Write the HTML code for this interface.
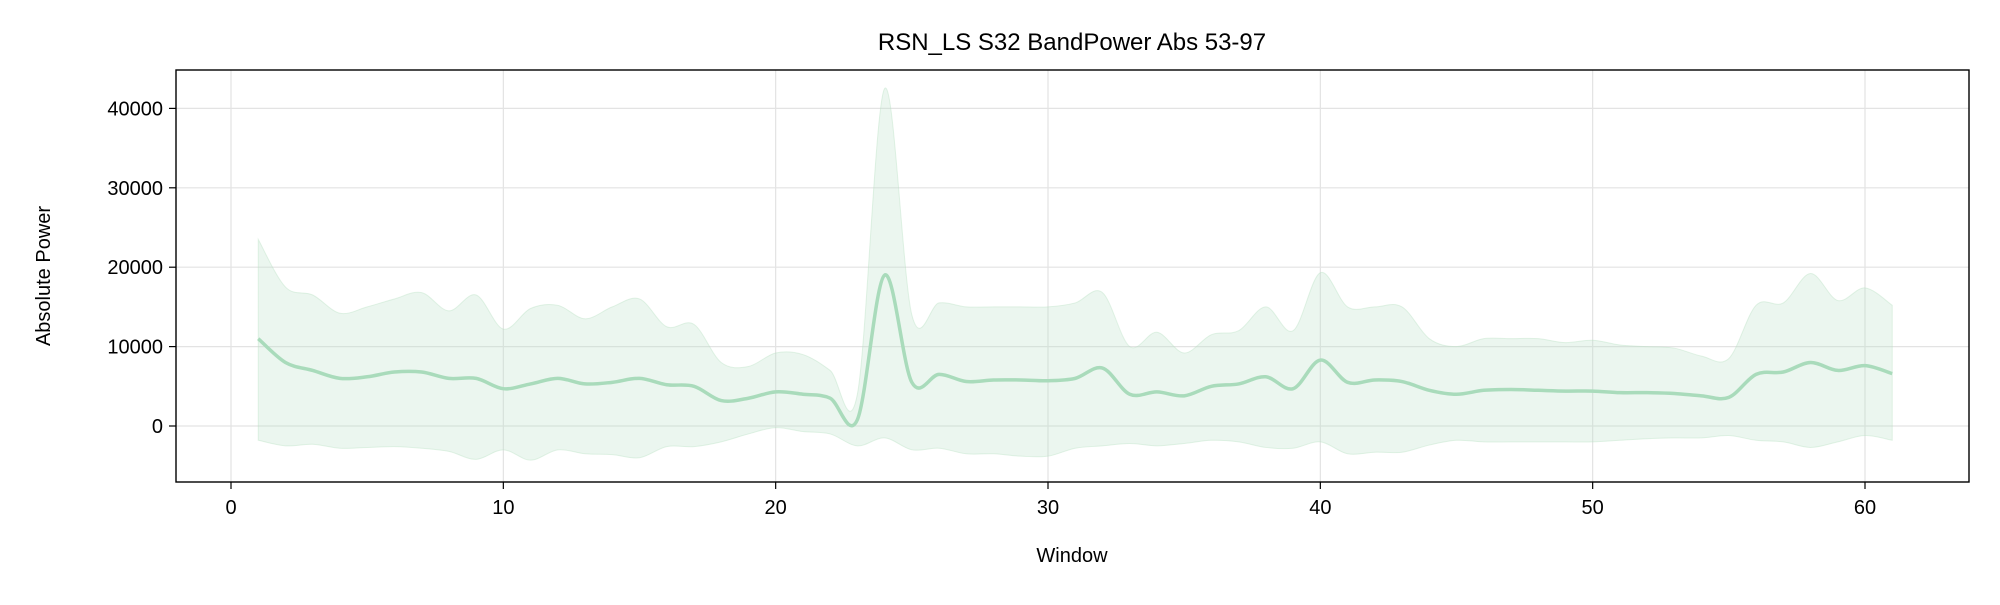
<!DOCTYPE html>
<html><head><meta charset="utf-8"><style>
html,body{margin:0;padding:0;background:#fff;}
svg text{font-family:"Liberation Sans","DejaVu Sans",sans-serif;fill:#000;}
</style></head><body>
<svg id="chart" width="2000" height="600" viewBox="0 0 2000 600" xmlns="http://www.w3.org/2000/svg">
<rect width="2000" height="600" fill="#fff"/>
<g id="grid"></g>
<g id="series"></g>
<rect x="176" y="70" width="1793" height="412" fill="none" stroke="#000" stroke-width="1.4"/>
<g id="ticks"></g>
<text x="1072" y="50" font-size="24" text-anchor="middle">RSN_LS S32 BandPower Abs 53-97</text>
<text x="1072" y="562" font-size="20" text-anchor="middle">Window</text>
<text transform="translate(50,276) rotate(-90)" font-size="20" text-anchor="middle">Absolute Power</text>
</svg>
<script>
const windows=[1,2,3,4,5,6,7,8,9,10,11,12,13,14,15,16,17,18,19,20,21,22,23,24,25,26,27,28,29,30,31,32,33,34,35,36,37,38,39,40,41,42,43,44,45,46,47,48,49,50,51,52,53,54,55,56,57,58,59,60,61];
const meanVals=[11000,8000,7000,6000,6200,6800,6800,6000,6000,4700,5300,6000,5300,5500,6000,5200,5000,3200,3500,4300,4000,3500,800,19000,5500,6500,5600,5800,5800,5700,6000,7300,4000,4300,3800,5000,5300,6200,4700,8300,5500,5800,5600,4500,4000,4500,4600,4500,4400,4400,4200,4200,4100,3800,3600,6500,6800,8000,7000,7600,6600];
const upperVals=[23500,17500,16500,14200,15000,16000,16800,14500,16500,12200,14800,15200,13500,15000,16000,12500,12800,8000,7500,9200,9000,7000,4000,42500,14000,15500,15000,15000,15000,15000,15500,16800,10000,11800,9200,11500,12000,15000,12000,19300,15000,15000,15000,11000,10000,11000,11000,11000,10500,10800,10200,10000,9800,8800,8500,15200,15500,19200,15800,17400,15200];
const lowerVals=[-1800,-2500,-2300,-2800,-2700,-2600,-2800,-3200,-4200,-3000,-4300,-3000,-3500,-3600,-4000,-2600,-2600,-2000,-1000,-200,-700,-1000,-2500,-1500,-3000,-2800,-3500,-3500,-3800,-3800,-2800,-2500,-2200,-2500,-2200,-1800,-2000,-2700,-2800,-2000,-3500,-3300,-3300,-2400,-1800,-2000,-2000,-2000,-2000,-2000,-1800,-1600,-1500,-1500,-1200,-1800,-2000,-2700,-2000,-1200,-1800];
const xTicks=[0,10,20,30,40,50,60];
const yTicks=[0,10000,20000,30000,40000];

const NS="http://www.w3.org/2000/svg";
const xs=v=>231+v*(1865-231)/60;
const ys=v=>426-v*(426-108.4)/40000;
function mk(tag,attrs,parent){const e=document.createElementNS(NS,tag);for(const k in attrs)e.setAttribute(k,attrs[k]);parent.appendChild(e);return e;}
function spline(pts){let d="";for(let i=0;i<pts.length-1;i++){const p0=pts[Math.max(i-1,0)],p1=pts[i],p2=pts[i+1],p3=pts[Math.min(i+2,pts.length-1)];
const c1=[p1[0]+(p2[0]-p0[0])/6,p1[1]+(p2[1]-p0[1])/6],c2=[p2[0]-(p3[0]-p1[0])/6,p2[1]-(p3[1]-p1[1])/6];
d+=(i===0?"M"+p1[0]+","+p1[1]:"")+" C"+c1[0]+","+c1[1]+" "+c2[0]+","+c2[1]+" "+p2[0]+","+p2[1];}return d;}
const grid=document.getElementById('grid'),ticks=document.getElementById('ticks'),series=document.getElementById('series');
xTicks.forEach(t=>{
 const g=mk('line',{x1:xs(t),x2:xs(t),y1:70,y2:482,stroke:'#e3e3e3','stroke-width':1.2},grid);
 
 
 const tk=mk('line',{x1:xs(t),x2:xs(t),y1:482,y2:489,stroke:'#000','stroke-width':1.2},ticks);
 
 
 const tx=mk('text',{x:xs(t),y:514,'font-size':20,'text-anchor':'middle'},ticks);tx.textContent=t;
 
 
});
yTicks.forEach(t=>{
 const g=mk('line',{x1:176,x2:1969,y1:ys(t),y2:ys(t),stroke:'#e3e3e3','stroke-width':1.2},grid);
 
 
 const tk=mk('line',{x1:169,x2:176,y1:ys(t),y2:ys(t),stroke:'#000','stroke-width':1.2},ticks);
 
 
 const tx=mk('text',{x:163,y:ys(t)+7,'font-size':20,'text-anchor':'end'},ticks);tx.textContent=t;
 
 
});
const up=windows.map((w,i)=>[xs(w),ys(upperVals[i])]);
const lo=windows.map((w,i)=>[xs(w),ys(lowerVals[i])]).reverse();
const loD=spline(lo).replace(/^M/,' L');
const band=mk('path',{d:spline(up)+loD+' Z',fill:'#b8e0c4','fill-opacity':0.28,stroke:'#b8e0c4','stroke-opacity':0.4,'stroke-width':1},series);


const line=mk('path',{d:spline(windows.map((w,i)=>[xs(w),ys(meanVals[i])])),fill:'none',stroke:'#a9dbbb','stroke-width':3.5},series);


</script>
</body></html>
